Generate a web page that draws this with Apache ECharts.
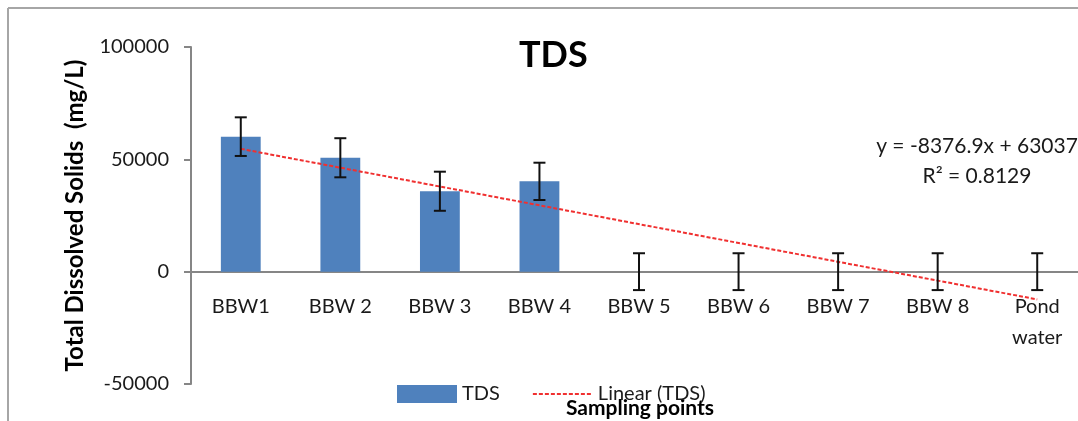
<!DOCTYPE html>
<html>
<head>
<meta charset="utf-8">
<script src="https://cdn.jsdelivr.net/npm/echarts@6/dist/echarts.min.js"></script>
<style>
  html, body { margin: 0; padding: 0; background: #fff; }
  #chart { width: 1078px; height: 421px; }
</style>
</head>
<body>
<div id="chart"></div>
<script>
// ---- data ----
var categories = ['BBW1', 'BBW 2', 'BBW 3', 'BBW 4', 'BBW 5', 'BBW 6', 'BBW 7', 'BBW 8', 'Pond\nwater'];
var tdsValues = [60100, 50700, 35800, 40200, 0, 0, 0, 0, 0];
var tdsErrors = [8600, 8700, 8700, 8300, 8200, 8200, 8200, 8200, 8200];
var yTicks = [-50000, 0, 50000, 100000];
// trendline endpoints (Excel linear trendline y = -8376.9x + 63037, at BBW1 and Pond water)
var trendStart = 54660;
var trendEnd = -12355;
var trendText = 'y = -8376.9x + 63037';
var r2Text = 'R\u00B2 = 0.8129';

var FONT = 'Lato, "Open Sans", sans-serif';
var trendData = categories.map(function (c, i) {
  if (i === 0) return trendStart;
  if (i === categories.length - 1) return trendEnd;
  return null;
});
var errData = categories.map(function (c, i) { return [i, tdsValues[i], tdsErrors[i]]; });

var chart = echarts.init(document.getElementById('chart'));
chart.setOption({
  animation: false,
  backgroundColor: '#ffffff',
  title: {
    text: 'TDS',
    left: 514,
    top: 32,
    textStyle: { fontFamily: FONT, fontSize: 36, fontWeight: 'bold', color: '#000' }
  },
  legend: {
    left: 392,
    top: 379,
    itemWidth: 60,
    itemHeight: 18,
    itemGap: 32,
    textStyle: { fontFamily: FONT, fontSize: 20, color: '#1a1a1a' },
    data: [
      { name: 'TDS', icon: 'rect' },
      { name: 'Linear (TDS)', itemStyle: { opacity: 0 } }
    ]
  },
  grid: { left: 191, right: -9, top: 47, bottom: 37, containLabel: false, outerBoundsMode: 'none' },
  xAxis: {
    type: 'category',
    data: categories,
    axisLine: { onZero: true, lineStyle: { color: '#868686', width: 2 } },
    axisTick: { show: false },
    axisLabel: {
      margin: -93,
      fontFamily: FONT, fontSize: 20, color: '#1a1a1a', lineHeight: 31,
      interval: 0
    },
    splitLine: { show: false }
  },
  yAxis: {
    type: 'value',
    min: yTicks[0],
    max: yTicks[yTicks.length - 1],
    interval: 50000,
    name: 'Total Dissolved Solids  (mg/L)',
    nameLocation: 'middle',
    nameGap: 104,
    nameRotate: 90,
    nameTextStyle: { fontFamily: FONT, fontSize: 24, fontWeight: 'bold', color: '#000' },
    axisLine: { show: true, lineStyle: { color: '#868686', width: 2 } },
    axisTick: { show: true, length: 7, inside: false, lineStyle: { color: '#868686', width: 2 } },
    axisLabel: {
      margin: 22, fontFamily: FONT, fontSize: 20, color: '#1a1a1a',
      formatter: function (v) { return String(v); }
    },
    splitLine: { show: false }
  },
  series: [
    {
      name: 'TDS',
      type: 'bar',
      data: tdsValues,
      barWidth: '40%',
      itemStyle: { color: '#4f81bd' },
      z: 2
    },
    {
      name: 'Linear (TDS)',
      type: 'line',
      data: trendData,
      connectNulls: true,
      symbol: 'none',
      showSymbol: false,
      lineStyle: { color: '#f03030', width: 2, type: [4, 2] },
      itemStyle: { color: '#f03030' },
      z: 3
    },
    {
      name: 'err',
      type: 'custom',
      data: errData,
      z: 4,
      renderItem: function (params, api) {
        var x = api.value(0), v = api.value(1), e = api.value(2);
        var top = api.coord([x, v + e]);
        var bot = api.coord([x, v - e]);
        var hw = 6;
        var style = { stroke: '#111', lineWidth: 2, fill: null };
        return {
          type: 'group',
          children: [
            { type: 'line', shape: { x1: top[0], y1: top[1], x2: bot[0], y2: bot[1] }, style: style },
            { type: 'line', shape: { x1: top[0] - hw, y1: top[1], x2: top[0] + hw, y2: top[1] }, style: style },
            { type: 'line', shape: { x1: bot[0] - hw, y1: bot[1], x2: bot[0] + hw, y2: bot[1] }, style: style }
          ]
        };
      }
    }
  ],
  graphic: [
    { type: 'line', shape: { x1: 8, y1: 8, x2: 1078, y2: 8 }, style: { stroke: '#a6a6a6', lineWidth: 2 } },
    { type: 'line', shape: { x1: 8, y1: 8, x2: 8, y2: 421 }, style: { stroke: '#a6a6a6', lineWidth: 2 } },
    { type: 'text', x: 977, y: 146, style: { text: trendText, fontFamily: FONT, fontSize: 21, fill: '#1a1a1a', textAlign: 'center', textVerticalAlign: 'middle' } },
    { type: 'text', x: 977, y: 176, style: { text: r2Text, fontFamily: FONT, fontSize: 21, fill: '#1a1a1a', textAlign: 'center', textVerticalAlign: 'middle' } },
    { type: 'text', x: 640, y: 408, style: { text: 'Sampling points', fontFamily: FONT, fontSize: 21, fontWeight: 'bold', fill: '#000', textAlign: 'center', textVerticalAlign: 'middle' } }
  ]
});
</script>
</body>
</html>
